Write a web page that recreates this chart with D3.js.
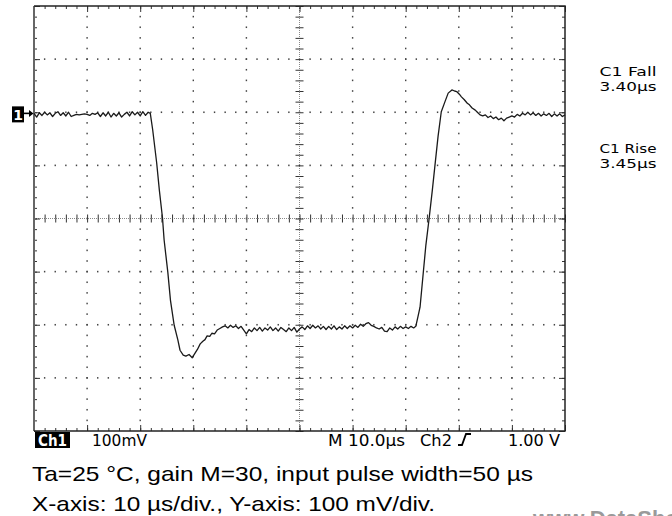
<!DOCTYPE html>
<html>
<head>
<meta charset="utf-8">
<script src="https://cdn.jsdelivr.net/npm/d3@7"></script>
<style>
  html, body { margin: 0; padding: 0; background: #fff; }
  svg { display: block; }
</style>
</head>
<body>
<svg id="chart" width="672" height="516"></svg>
<script>
// ---------- DATA (time in µs, voltage in mV relative to screen centre) ----------
const baselineBefore = [[0,198],[0.5,191],[1,199],[1.5,194],[2,200],[2.5,195],[3,199],[3.5,192],[4,198],[4.5,201],[5,194],[5.5,199],[6,193],[6.5,200],[7,192],[7.5,194],[8,196],[8.5,195],[9,196],[9.5,197],[10,196],[10.5,194],[11,198],[11.5,196],[12,199],[12.5,192],[13,199],[13.5,193],[14,200],[14.5,191],[15,198],[15.5,193],[16,199],[16.5,191],[17,196],[17.5,200],[18,193],[18.5,201],[19,195],[19.5,200],[20,193],[20.5,201],[21,194],[21.5,200],[21.9,198]];
const fallingEdge = [[22.35,167],[23.1,105],[23.6,54],[24.2,1],[24.5,-40],[25.2,-101],[25.7,-154],[26.4,-201],[27.1,-229],[27.5,-248],[28.1,-257],[28.6,-259],[29.2,-256],[29.8,-262]];
const lowLevel = [[30.3,-254],[30.8,-246],[31.3,-236],[31.8,-231],[32.2,-228],[32.6,-221],[33.1,-222],[33.5,-216],[34.0,-217],[34.5,-210],[35.0,-207],[35.5,-204],[36,-202],[36.5,-206],[37,-201],[37.5,-205],[38,-202],[38.5,-207],[39,-203],[39.5,-210],[40,-217],[40.5,-209],[41,-213],[41.5,-206],[42,-211],[42.5,-205],[43,-212],[43.5,-206],[44,-210],[44.5,-204],[45,-211],[45.5,-206],[46,-212],[46.5,-205],[47,-209],[47.5,-213],[48,-206],[48.5,-211],[49,-205],[49.5,-214],[50,-208],[50.5,-204],[51,-209],[51.5,-202],[52,-207],[52.5,-201],[53,-206],[53.5,-202],[54,-208],[54.5,-203],[55,-209],[55.5,-203],[56,-208],[56.5,-202],[57,-209],[57.5,-204],[58,-208],[58.5,-202],[59,-207],[59.5,-202],[60,-206],[60.5,-201],[61,-205],[61.5,-199],[62,-203],[62.5,-198],[63,-196],[63.5,-201],[64,-203],[64.5,-206],[65,-208],[65.5,-205],[66,-212],[66.5,-213],[67,-206],[67.5,-210],[68,-204],[68.5,-208],[69,-203],[69.5,-207],[70,-204],[70.5,-207],[71,-203],[71.5,-206],[71.9,-203]];
const risingEdge = [[72.3,-185],[72.7,-167],[73.3,-103],[73.8,-50],[74.4,-1],[75.0,52],[75.5,99],[76.1,155],[76.7,201],[77.4,220],[78.0,236],[78.7,242],[79.2,240],[79.6,239],[80.1,234],[80.5,229],[81.0,224],[81.6,217],[82.0,214],[82.5,208],[83.1,204],[83.5,200],[84.0,195]];
const baselineAfter = [[84.5,193],[85,195],[85.5,190],[86,193],[86.5,188],[87,191],[87.5,186],[88,189],[88.5,184],[89,189],[89.5,191],[90,193],[90.5,191],[91,196],[91.5,193],[92,198],[92.5,195],[93,200],[93.5,195],[94,199],[94.5,194],[95,198],[95.5,193],[96,197],[96.5,194],[97,198],[97.5,192],[98,197],[98.5,193],[99,197],[99.5,192],[100,195]];

const xMajorTicks = [0,10,20,30,40,50,60,70,80,90,100];        // µs (10 µs/div)
const yMajorTicks = [-400,-300,-200,-100,0,100,200,300,400];    // mV (100 mV/div)
const ch1GroundMv = 196;                                         // "1→" marker level

const measureLabels = ["C1 Fall", "C1 Rise"];
const measureValues = ["3.40µs", "3.45µs"];
const statusTexts = ["Ch1", "100mV", "M 10.0µs", "Ch2", "1.00 V"];
const captionLines = ["Ta=25 °C, gain M=30, input pulse width=50 µs", "X-axis: 10 µs/div., Y-axis: 100 mV/div."];
const watermark = "www.DataSheet4U.com";

// ---------- LAYOUT ----------
const svg = d3.select("#chart");
const L = 34, R = 565, T = 6, B = 431;
const x = d3.scaleLinear().domain([0, 100]).range([L, R]);
const y = d3.scaleLinear().domain([-400, 400]).range([B, T]);

const minorX = d3.range(0, 100.001, 2);
const minorY = d3.range(-400, 400.001, 20);

const grid = svg.append("g");

// grid dots along inner major lines
xMajorTicks.filter(v => v > 0 && v < 100 && v !== 50).forEach(v => {
  grid.selectAll(null).data(minorY.filter(m => m > -400 && m < 400)).enter().append("rect")
    .attr("x", x(v) - 0.7).attr("y", d => y(d) - 0.8).attr("width", 1.4).attr("height", 1.6)
    .attr("fill", "#444");
});
yMajorTicks.filter(v => v > -400 && v < 400 && v !== 0).forEach(v => {
  grid.selectAll(null).data(minorX.filter(m => m > 0 && m < 100)).enter().append("rect")
    .attr("x", d => x(d) - 0.7).attr("y", y(v) - 0.8).attr("width", 1.4).attr("height", 1.6)
    .attr("fill", "#444");
});

// centre crosshair: dense dotted lines
grid.append("line").attr("x1", L).attr("x2", R).attr("y1", y(0)).attr("y2", y(0))
  .attr("stroke", "#888").attr("stroke-width", 1).attr("stroke-dasharray", "1,1");
grid.append("line").attr("x1", x(50)).attr("x2", x(50)).attr("y1", T).attr("y2", B)
  .attr("stroke", "#888").attr("stroke-width", 1).attr("stroke-dasharray", "1,1");

function styleAxis(g) {
  g.select(".domain").remove();
  g.selectAll(".tick line").attr("stroke", "#333").attr("stroke-width", 1);
  g.selectAll("text").remove();
}
// ticks on centre lines (±4 px)
grid.append("g").attr("transform", `translate(0,${y(0)})`)
  .call(d3.axisBottom(x).tickValues(minorX).tickSize(4).tickFormat("")).call(styleAxis);
grid.append("g").attr("transform", `translate(0,${y(0)})`)
  .call(d3.axisTop(x).tickValues(minorX).tickSize(4).tickFormat("")).call(styleAxis);
grid.append("g").attr("transform", `translate(${x(50)},0)`)
  .call(d3.axisRight(y).tickValues(minorY).tickSize(4).tickFormat("")).call(styleAxis);
grid.append("g").attr("transform", `translate(${x(50)},0)`)
  .call(d3.axisLeft(y).tickValues(minorY).tickSize(4).tickFormat("")).call(styleAxis);

// border ticks (inward)
grid.append("g").attr("transform", `translate(0,${T})`)
  .call(d3.axisBottom(x).tickValues(minorX).tickSize(3).tickFormat("")).call(styleAxis);
grid.append("g").attr("transform", `translate(0,${B})`)
  .call(d3.axisTop(x).tickValues(minorX).tickSize(3).tickFormat("")).call(styleAxis);
grid.append("g").attr("transform", `translate(${L},0)`)
  .call(d3.axisRight(y).tickValues(minorY).tickSize(3).tickFormat("")).call(styleAxis);
grid.append("g").attr("transform", `translate(${R},0)`)
  .call(d3.axisLeft(y).tickValues(minorY).tickSize(3).tickFormat("")).call(styleAxis);
// longer marks at major divisions on borders
grid.append("g").attr("transform", `translate(${L},0)`)
  .call(d3.axisRight(y).tickValues(yMajorTicks).tickSize(6).tickFormat("")).call(styleAxis);
grid.append("g").attr("transform", `translate(${R},0)`)
  .call(d3.axisLeft(y).tickValues(yMajorTicks).tickSize(6).tickFormat("")).call(styleAxis);
grid.append("g").attr("transform", `translate(0,${T})`)
  .call(d3.axisBottom(x).tickValues(xMajorTicks).tickSize(6).tickFormat("")).call(styleAxis);
grid.append("g").attr("transform", `translate(0,${B})`)
  .call(d3.axisTop(x).tickValues(xMajorTicks).tickSize(6).tickFormat("")).call(styleAxis);

// frame
svg.append("line").attr("x1", L).attr("x2", L).attr("y1", T).attr("y2", B).attr("stroke", "#666").attr("stroke-width", 2);
svg.append("line").attr("x1", L).attr("x2", R + 0.75).attr("y1", T).attr("y2", T).attr("stroke", "#222").attr("stroke-width", 1.5);
svg.append("line").attr("x1", R).attr("x2", R).attr("y1", T).attr("y2", B).attr("stroke", "#222").attr("stroke-width", 1.5);
svg.append("line").attr("x1", L).attr("x2", R + 0.75).attr("y1", B).attr("y2", B).attr("stroke", "#222").attr("stroke-width", 1.5);

// trace
const trace = [].concat(baselineBefore, fallingEdge, lowLevel, risingEdge, baselineAfter);
const line = d3.line().x(d => x(d[0])).y(d => y(d[1]));
svg.append("path").datum(trace).attr("d", line)
  .attr("fill", "none").attr("stroke", "#1a1a1a").attr("stroke-width", 1.3)
  .attr("stroke-linejoin", "round");

// ground marker "1→"
const gy = y(ch1GroundMv);
svg.append("rect").attr("x", 12).attr("y", gy - 8).attr("width", 12).attr("height", 16).attr("fill", "#000");
svg.append("text").attr("x", 18).attr("y", gy + 5.5).attr("text-anchor", "middle")
  .attr("font-family", "DejaVu Sans").attr("font-size", 14).attr("font-weight", "bold").attr("fill", "#fff").text("1");
svg.append("line").attr("x1", 24).attr("x2", 30).attr("y1", gy - 1).attr("y2", gy - 1).attr("stroke", "#000").attr("stroke-width", 1.6);
svg.append("path").attr("d", `M29,${gy - 4.5} L33.5,${gy - 1} L29,${gy + 2.5} Z`).attr("fill", "#000");

// measurement readouts
const mFont = "DejaVu Sans";
measureLabels.forEach((lab, i) => {
  const base = i === 0 ? 75.5 : 152.5;
  svg.append("text").attr("x", 599.5).attr("y", base).attr("font-family", mFont).attr("font-size", 13)
    .attr("textLength", 57).attr("lengthAdjust", "spacingAndGlyphs").attr("fill", "#000").text(lab);
  svg.append("text").attr("x", 599.5).attr("y", base + 15).attr("font-family", mFont).attr("font-size", 13)
    .attr("textLength", 57).attr("lengthAdjust", "spacingAndGlyphs").attr("fill", "#000").text(measureValues[i]);
});

// status bar
svg.append("rect").attr("x", 35).attr("y", 432).attr("width", 35).attr("height", 16).attr("fill", "#000");
const statusPos = [[38, 29], [92, 55], [328, 77], [420, 32], [508, 52]];
statusTexts.forEach((t, i) => {
  svg.append("text").attr("x", statusPos[i][0]).attr("y", 445.5)
    .attr("font-family", mFont).attr("font-size", 15)
    .attr("textLength", statusPos[i][1]).attr("lengthAdjust", "spacingAndGlyphs")
    .attr("fill", i === 0 ? "#fff" : "#000").attr("font-weight", i === 0 ? "bold" : "normal").text(t);
});
// trigger (rising edge) symbol
svg.append("path").attr("d", "M458,445 L462,445 L466,434 L471,434")
  .attr("fill", "none").attr("stroke", "#000").attr("stroke-width", 1.8);

// caption
svg.append("text").attr("x", 32).attr("y", 481).attr("font-family", "Liberation Sans, Arial, sans-serif")
  .attr("font-size", 21).attr("textLength", 501).attr("lengthAdjust", "spacingAndGlyphs").attr("fill", "#000").text(captionLines[0]);
svg.append("text").attr("x", 32).attr("y", 511).attr("font-family", "Liberation Sans, Arial, sans-serif")
  .attr("font-size", 21).attr("textLength", 403).attr("lengthAdjust", "spacingAndGlyphs").attr("fill", "#000").text(captionLines[1]);

// watermark (cut by the bottom edge, as in the reference)
svg.append("text").attr("x", 533).attr("y", 526).attr("font-family", "Liberation Sans, Arial, sans-serif")
  .attr("font-size", 22).attr("font-weight", "bold").attr("fill", "#9a9a9a").text(watermark);
</script>
</body>
</html>
